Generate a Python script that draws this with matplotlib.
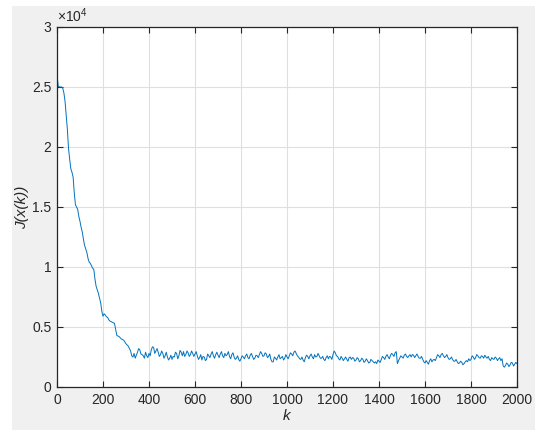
import numpy as np
import matplotlib
matplotlib.use("Agg")
import matplotlib.pyplot as plt
from matplotlib.patches import Rectangle
from matplotlib.ticker import FuncFormatter

#---data (J in units of 1e3)---#
k = np.arange(0, 2001, 5)
# values at k = 0, 10, 20, ..., 2000
J_even = [26.0, 25.0, 25.0, 24.5, 22.6, 19.9, 18.2, 17.5, 15.2, 14.8,
          13.8, 12.9, 11.8, 11.2, 10.4, 10.1, 9.8, 8.4, 7.8, 7.0,
          5.9, 6.0, 5.8, 5.5, 5.4, 5.3, 4.3, 4.2, 4.0, 3.9,
          3.6, 3.4, 3.0, 2.5, 2.4, 2.9, 3.1, 2.7, 2.4, 2.6,
          2.8, 3.1, 3.3, 3.0, 2.9, 2.7, 2.8, 2.6, 2.5, 2.4,
          2.3, 2.5, 2.8, 2.6, 2.9, 2.95, 2.7, 2.85, 2.7, 2.8,
          2.75, 2.6, 2.45, 2.25, 2.5, 2.3, 2.6, 2.75, 2.6, 2.7,
          2.65, 2.75, 2.6, 2.8, 2.7, 2.55, 2.7, 2.5, 2.4, 2.3,
          2.35, 2.5, 2.6, 2.45, 2.65, 2.55, 2.4, 2.6, 2.7, 2.8,
          2.6, 2.75, 2.55, 2.3, 2.1, 2.4, 2.5, 2.35, 2.55, 2.4,
          2.5, 2.6, 2.75, 2.9, 2.8, 2.5, 2.3, 2.25, 2.45, 2.55,
          2.6, 2.5, 2.7, 2.55, 2.6, 2.4, 2.3, 2.45, 2.35, 2.5,
          2.7, 2.85, 2.55, 2.25, 2.4, 2.35, 2.3, 2.45, 2.3, 2.4,
          2.25, 2.35, 2.2, 2.3, 2.15, 2.2, 2.05, 2.2, 2.0, 1.95,
          2.15, 2.3, 2.45, 2.55, 2.5, 2.65, 2.7, 2.85, 1.95, 2.4,
          2.5, 2.65, 2.55, 2.6, 2.5, 2.65, 2.6, 2.55, 2.4, 2.3,
          2.0, 2.05, 2.2, 2.1, 2.3, 2.45, 2.6, 2.7, 2.6, 2.55,
          2.45, 2.35, 2.3, 2.15, 2.1, 2.0, 2.05, 1.95, 2.2, 2.35,
          2.3, 2.5, 2.45, 2.6, 2.4, 2.55, 2.65, 2.4, 2.3, 2.45,
          2.3, 2.4, 2.35, 2.2, 1.75, 1.8, 1.9, 1.85, 2.0, 1.9,
          1.95]
# values at k = 5, 15, 25, ..., 1995 (the jitter between)
J_odd = [25.1, 25.0, 24.9, 23.8, 21.5, 19.0, 17.9, 16.2, 15.0, 14.2,
         13.3, 12.3, 11.5, 10.7, 10.3, 9.9, 9.0, 8.1, 7.4, 6.3,
         6.1, 5.85, 5.6, 5.45, 5.35, 4.8, 4.25, 4.1, 3.95, 3.75,
         3.5, 3.2, 2.6, 2.8, 2.65, 3.2, 2.75, 2.6, 2.9, 2.45,
         2.6, 3.35, 2.8, 3.2, 2.55, 3.0, 2.4, 2.9, 2.25, 2.65,
         2.55, 2.9, 2.35, 3.05, 2.6, 2.55, 3.0, 2.55, 3.0, 2.55,
         2.95, 2.3, 2.7, 2.55, 2.2, 2.75, 2.45, 2.95, 2.4, 2.9,
         2.45, 2.95, 2.45, 2.6, 2.95, 2.35, 2.85, 2.3, 2.6, 2.15,
         2.6, 2.35, 2.75, 2.35, 2.8, 2.3, 2.65, 2.45, 2.95, 2.55,
         2.85, 2.45, 2.75, 2.1, 2.5, 2.25, 2.7, 2.45, 2.25, 2.7,
         2.35, 2.85, 2.6, 3.0, 2.6, 2.35, 2.5, 2.1, 2.65, 2.35,
         2.75, 2.35, 2.5, 2.8, 2.4, 2.55, 2.2, 2.6, 2.55, 2.3,
         3.0, 2.6, 2.35, 2.55, 2.2, 2.5, 2.15, 2.5, 2.45, 2.15,
         2.45, 2.1, 2.4, 2.05, 2.35, 2.0, 2.3, 2.1, 2.1, 2.25,
         2.05, 2.55, 2.3, 2.7, 2.35, 2.8, 2.55, 2.95, 2.2, 2.6,
         2.4, 2.75, 2.45, 2.7, 2.7, 2.45, 2.75, 2.4, 2.55, 2.1,
         2.2, 1.9, 2.35, 2.25, 2.2, 2.7, 2.45, 2.8, 2.45, 2.7,
         2.3, 2.5, 2.15, 2.3, 1.95, 2.15, 1.85, 2.1, 2.1, 2.2,
         2.6, 2.3, 2.7, 2.45, 2.6, 2.4, 2.5, 2.55, 2.2, 2.35,
         2.5, 2.2, 2.45, 2.35, 1.65, 2.0, 1.7, 2.05, 1.75, 2.05]
J = np.empty(len(k))
J[0::2] = J_even
J[1::2] = J_odd
J = J * 1000.0

xticks = np.arange(0, 2001, 200)
yticks = np.arange(0, 30001, 5000)

#---figure---#
plt.rcParams['font.family'] = ['Liberation Sans', 'DejaVu Sans']
plt.rcParams['mathtext.fontset'] = 'custom'
plt.rcParams['mathtext.rm'] = 'Liberation Sans'
plt.rcParams['mathtext.it'] = 'Liberation Sans:italic'
fig = plt.figure(figsize=(5.4, 4.3), dpi=100)
fig.patch.set_facecolor('white')
fig.patches.append(Rectangle((12/540, 0), (535-12)/540, 1-6/430, transform=fig.transFigure,
                             facecolor='#f0f0f0', edgecolor='none', zorder=-10))

ax = fig.add_axes([57/540, 1-387/430, 460/540, 360/430])
ax.plot(k, J, color='#0072bd', lw=0.7)

ax.set_xlim(0, 2000)
ax.set_ylim(0, 30000)
ax.set_xticks(xticks)
ax.set_yticks(yticks)
ax.yaxis.set_major_formatter(FuncFormatter(lambda v, p: ('%g' % (v/1e4))))
ax.grid(True, color='#dfdfdf', lw=0.8)
ax.set_axisbelow(True)
ax.tick_params(direction='in', top=True, right=True, length=4, width=0.8,
               colors='#262626', labelsize=10, pad=4)
for s in ax.spines.values():
    s.set_color('#262626')
    s.set_linewidth(0.9)

ax.set_xlabel('k', fontsize=11, fontstyle='italic', color='#262626', labelpad=2)
ax.set_ylabel('J(x(k))', fontsize=11, fontstyle='italic', color='#262626', labelpad=2)
ax.text(0.0, 1.005, r'$\times10^4$', transform=ax.transAxes, fontsize=10,
        color='#262626', ha='left', va='bottom')

fig.savefig('out.png', dpi=100)
